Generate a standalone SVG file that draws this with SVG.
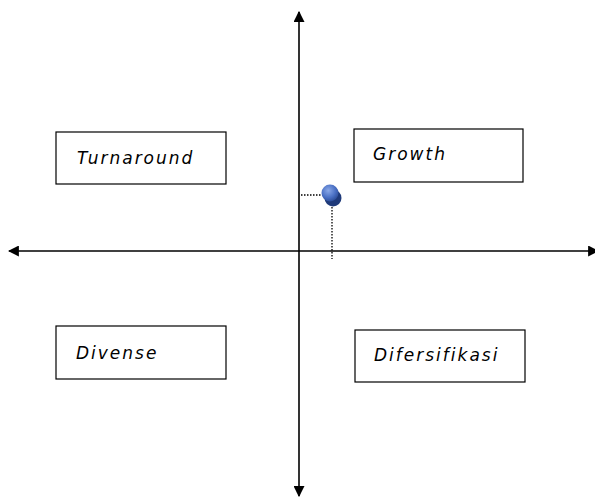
<svg xmlns="http://www.w3.org/2000/svg" width="595" height="500" viewBox="0 0 595 500">
<defs>
<style>
.box{fill:#fff;stroke:#000;stroke-width:1.2}
.lbl{font-family:"DejaVu Sans",Verdana,sans-serif;font-style:italic;font-size:17px;letter-spacing:2px;fill:#000}
.axis{stroke:#000;stroke-width:1.6;fill:none}
.dot{stroke:#000;stroke-width:1.3;stroke-dasharray:1.5 1.5;fill:none}
</style>
<marker id="ah" viewBox="0 0 10 10" refX="9" refY="5" markerWidth="11" markerHeight="11" markerUnits="userSpaceOnUse" orient="auto">
<path d="M0,0 L10,5 L0,10 z" fill="#000"/>
</marker>
<radialGradient id="ball" cx="0.4" cy="0.35" r="0.7">
<stop offset="0" stop-color="#8aa8e8"/>
<stop offset="0.6" stop-color="#4a70c4"/>
<stop offset="1" stop-color="#2a4a94"/>
</radialGradient>
</defs>
<rect width="595" height="500" fill="#fff"/>
<g id="connectors">
<line class="axis" x1="299" y1="250" x2="299" y2="12" marker-end="url(#ah)"/>
<line class="axis" x1="299" y1="250" x2="299" y2="496" marker-end="url(#ah)"/>
<line class="axis" x1="299" y1="251" x2="9" y2="251" marker-end="url(#ah)"/>
<line class="axis" x1="299" y1="251" x2="598" y2="251" marker-end="url(#ah)"/>
<line class="dot" x1="301" y1="195" x2="322" y2="195"/>
<line class="dot" x1="332" y1="201" x2="332" y2="259"/>
</g>
<g id="point">
<circle cx="333" cy="198" r="8.5" fill="#1f3a7a"/>
<circle cx="330" cy="193" r="8.5" fill="url(#ball)"/>
</g>
<g id="turnaround">
<rect class="box" x="56" y="132" width="170" height="52"/>
<text class="lbl" x="77" y="164">Turnaround</text>
</g>
<g id="growth">
<rect class="box" x="354" y="129" width="169" height="53"/>
<text class="lbl" x="373" y="160">Growth</text>
</g>
<g id="divense">
<rect class="box" x="56" y="326" width="170" height="53"/>
<text class="lbl" x="76" y="359">Divense</text>
</g>
<g id="difersifikasi">
<rect class="box" x="355" y="330" width="170" height="52"/>
<text class="lbl" x="374" y="361">Difersifikasi</text>
</g>
</svg>
